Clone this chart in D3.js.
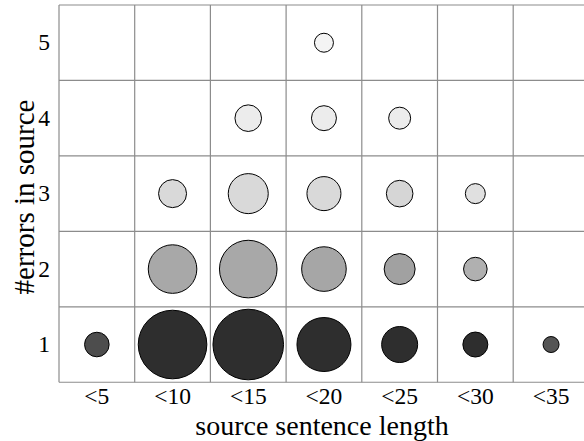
<!DOCTYPE html>
<html><head><meta charset="utf-8">
<script src="https://cdn.jsdelivr.net/npm/d3@7"></script>
<style>body{margin:0;background:#fff}svg{display:block}
svg text{font-family:"Liberation Serif","Times New Roman",Times,serif !important;}</style>
</head><body>
<svg id="c" width="584" height="441"></svg>
<script>
const lengthCats = ["<5","<10","<15","<20","<25","<30","<35"];
const errorCats = [5,4,3,2,1];
// sizes (area-proportional) per error row, in lengthCats order (null = no bubble)
const row1 = [151,1176,1246,729,324,156,64];
const row2 = [null,590,829,497,240,139,null];
const row3 = [null,196,400,289,177,100,null];
const row4 = [null,null,177,156,121,null,null];
const row5 = [null,null,null,90,null,null,null];
// grey tone per cell (0 = white, 1 = black)
const tone1 = [0.70,0.82,0.82,0.82,0.82,0.82,0.67];
const tone2 = [0,0.34,0.34,0.35,0.37,0.31,0];
const tone3 = [0,0.15,0.15,0.15,0.16,0.12,0];
const tone4 = [0,0,0.075,0.075,0.075,0,0];
const tone5 = [0,0,0,0.045,0,0,0];

const rows = {1:row1,2:row2,3:row3,4:row4,5:row5};
const tones = {1:tone1,2:tone2,3:tone3,4:tone4,5:tone5};

const svg = d3.select("#c");
const mLeft = 59, mTop = 5, colW = 75.7, rowH = 75.45;
const x = d3.scaleBand().domain(lengthCats).range([mLeft, mLeft + colW*lengthCats.length]).padding(0);
const y = d3.scaleBand().domain(errorCats).range([mTop, mTop + rowH*errorCats.length]).padding(0);
const r = d3.scaleSqrt().domain([0,1250]).range([0,35.36]);
const shade = v => { const g = Math.round(255*(1-v)); return d3.rgb(g,g,g).toString(); };

// grid
const g = svg.append("g");
x.domain().forEach(c => {
  g.append("line").attr("x1", x(c)).attr("x2", x(c)).attr("y1", mTop).attr("y2", y.range()[1])
   .attr("stroke","#8c8c8c").attr("stroke-width",1.2);
});
errorCats.forEach(e => {
  g.append("line").attr("x1", mLeft).attr("x2", x.range()[1]).attr("y1", y(e)).attr("y2", y(e))
   .attr("stroke","#8c8c8c").attr("stroke-width",1.2);
});
g.append("line").attr("x1", mLeft).attr("x2", x.range()[1]).attr("y1", y.range()[1]).attr("y2", y.range()[1])
   .attr("stroke","#8c8c8c").attr("stroke-width",1.2);

// bubbles
const cells = [];
errorCats.forEach(e => rows[e].forEach((v,i) => { if (v != null) cells.push({e, c: lengthCats[i], v, t: tones[e][i]}); }));
svg.append("g").selectAll("circle").data(cells).join("circle")
  .attr("cx", d => x(d.c) + x.bandwidth()/2)
  .attr("cy", d => y(d.e) + y.bandwidth()/2)
  .attr("r", d => r(d.v))
  .attr("fill", d => shade(d.t))
  .attr("stroke", "#000").attr("stroke-width", 1);

// axes
const xa = svg.append("g").attr("transform", `translate(0,${y.range()[1]})`)
  .call(d3.axisBottom(x).tickSize(0).tickPadding(5));
xa.select(".domain").remove();
xa.selectAll("text").attr("font-size", 23.5).attr("fill","#000");
const ya = svg.append("g").attr("transform", `translate(${mLeft},0)`)
  .call(d3.axisLeft(y).tickSize(0).tickPadding(9));
ya.select(".domain").remove();
ya.selectAll("text").attr("font-size", 23.5).attr("fill","#000");

svg.append("text").attr("x", 322).attr("y", 435)
  .attr("text-anchor","middle").attr("font-size", 28).text("source sentence length");
svg.append("text").attr("transform", `translate(34,197) rotate(-90)`)
  .attr("text-anchor","middle").attr("font-size", 29).text("#errors in source");
</script>
</body></html>
